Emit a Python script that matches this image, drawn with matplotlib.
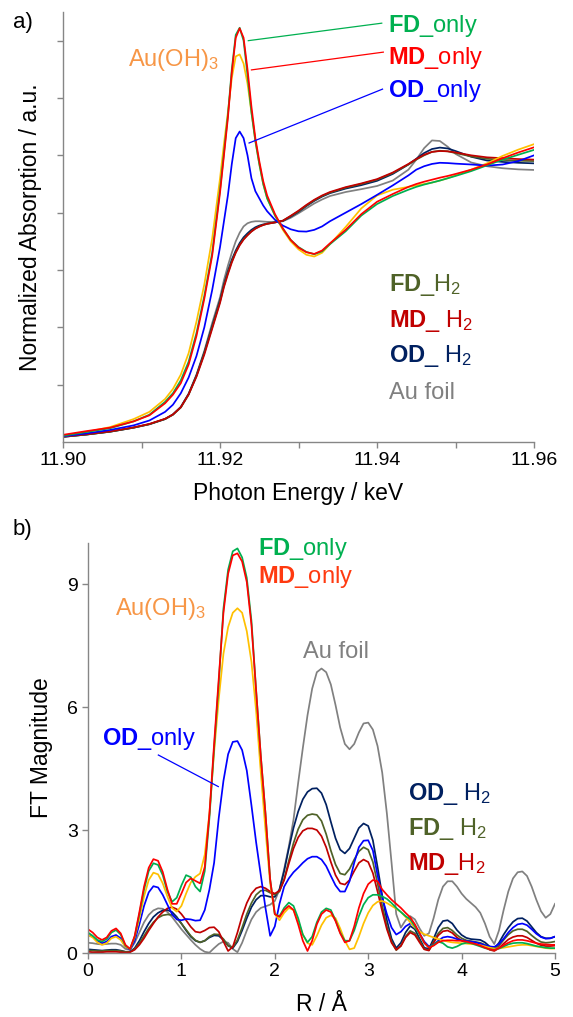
import numpy as np
import matplotlib
matplotlib.use("Agg")
import matplotlib.pyplot as plt

plt.rcParams['font.family'] = ['Liberation Sans', 'DejaVu Sans']
plt.rcParams['mathtext.fontset'] = 'custom'
plt.rcParams['mathtext.rm'] = 'Liberation Sans'
plt.rcParams['mathtext.it'] = 'Liberation Sans'
plt.rcParams['mathtext.bf'] = 'Liberation Sans:bold'

# ---------------- a) XANES ----------------
energy_kev = [11.900, 11.903, 11.906, 11.909, 11.911, 11.913, 11.914, 11.915, 11.916, 11.917,
              11.918, 11.919, 11.920, 11.9205, 11.921, 11.9215, 11.922, 11.9225, 11.923, 11.9235,
              11.924, 11.9245, 11.925, 11.9255, 11.926, 11.927, 11.928, 11.929, 11.930, 11.931,
              11.932, 11.933, 11.934, 11.936, 11.938, 11.940, 11.942, 11.944, 11.945, 11.946,
              11.947, 11.948, 11.949, 11.950, 11.952, 11.954, 11.956, 11.958, 11.960]

xanes_fd_only = [0.022, 0.035, 0.048, 0.072, 0.095, 0.140, 0.170, 0.215, 0.280, 0.380,
                 0.510, 0.660, 0.880, 1.010, 1.140, 1.300, 1.420, 1.445, 1.400, 1.280,
                 1.150, 1.050, 0.970, 0.900, 0.850, 0.790, 0.745, 0.705, 0.680, 0.663,
                 0.655, 0.665, 0.690, 0.735, 0.790, 0.830, 0.858, 0.880, 0.890, 0.898,
                 0.905, 0.912, 0.920, 0.928, 0.945, 0.965, 0.985, 1.002, 1.019]
xanes_md_only = [0.025, 0.038, 0.050, 0.072, 0.093, 0.135, 0.165, 0.205, 0.270, 0.370,
                 0.500, 0.650, 0.870, 1.000, 1.130, 1.290, 1.410, 1.443, 1.410, 1.300,
                 1.170, 1.060, 0.980, 0.910, 0.860, 0.795, 0.745, 0.705, 0.678, 0.662,
                 0.656, 0.668, 0.693, 0.740, 0.795, 0.838, 0.865, 0.890, 0.900, 0.908,
                 0.915, 0.922, 0.928, 0.935, 0.950, 0.968, 0.990, 1.010, 1.028]
xanes_au_oh3 = [0.020, 0.035, 0.052, 0.080, 0.105, 0.150, 0.185, 0.235, 0.310, 0.420,
                0.550, 0.710, 0.920, 1.040, 1.150, 1.270, 1.345, 1.352, 1.320, 1.250,
                1.150, 1.050, 0.970, 0.900, 0.850, 0.790, 0.740, 0.700, 0.672, 0.653,
                0.647, 0.660, 0.690, 0.750, 0.815, 0.860, 0.880, 0.890, 0.895, 0.900,
                0.905, 0.912, 0.920, 0.930, 0.950, 0.972, 0.998, 1.020, 1.039]
xanes_od_only = [0.020, 0.030, 0.042, 0.058, 0.075, 0.105, 0.130, 0.170, 0.225, 0.300,
                 0.400, 0.530, 0.680, 0.770, 0.860, 0.970, 1.060, 1.083, 1.060, 1.000,
                 0.920, 0.875, 0.850, 0.825, 0.805, 0.775, 0.755, 0.742, 0.735, 0.734,
                 0.740, 0.752, 0.770, 0.800, 0.830, 0.862, 0.895, 0.930, 0.950, 0.962,
                 0.970, 0.974, 0.973, 0.971, 0.968, 0.964, 0.968, 0.980, 1.000]
xanes_fd_h2 = [0.018, 0.026, 0.036, 0.050, 0.062, 0.080, 0.095, 0.120, 0.165, 0.230,
               0.310, 0.400, 0.490, 0.545, 0.590, 0.630, 0.662, 0.688, 0.708, 0.722,
               0.735, 0.745, 0.752, 0.757, 0.761, 0.766, 0.772, 0.788, 0.805, 0.825,
               0.843, 0.858, 0.870, 0.887, 0.900, 0.915, 0.938, 0.968, 0.985, 1.000,
               1.012, 1.016, 1.014, 1.008, 0.996, 0.988, 0.984, 0.981, 0.980]
xanes_md_h2 = [0.019, 0.027, 0.037, 0.051, 0.063, 0.081, 0.096, 0.121, 0.166, 0.228,
               0.305, 0.395, 0.485, 0.540, 0.585, 0.626, 0.660, 0.686, 0.706, 0.721,
               0.734, 0.744, 0.751, 0.757, 0.761, 0.766, 0.772, 0.789, 0.807, 0.827,
               0.845, 0.860, 0.872, 0.889, 0.902, 0.917, 0.940, 0.970, 0.987, 1.002,
               1.012, 1.015, 1.014, 1.010, 1.000, 0.993, 0.990, 0.987, 0.985]
xanes_od_h2 = [0.018, 0.026, 0.036, 0.050, 0.062, 0.080, 0.096, 0.122, 0.168, 0.233,
               0.313, 0.405, 0.495, 0.550, 0.596, 0.636, 0.668, 0.694, 0.714, 0.728,
               0.740, 0.749, 0.755, 0.759, 0.762, 0.766, 0.771, 0.786, 0.803, 0.823,
               0.841, 0.856, 0.868, 0.884, 0.896, 0.911, 0.935, 0.968, 0.988, 1.008,
               1.022, 1.027, 1.024, 1.015, 0.995, 0.982, 0.977, 0.974, 0.972]
xanes_au_foil = [0.018, 0.026, 0.036, 0.050, 0.062, 0.080, 0.096, 0.122, 0.168, 0.235,
                 0.318, 0.415, 0.505, 0.565, 0.615, 0.660, 0.700, 0.730, 0.752, 0.763,
                 0.768, 0.770, 0.770, 0.769, 0.768, 0.768, 0.770, 0.782, 0.798, 0.815,
                 0.832, 0.846, 0.858, 0.872, 0.882, 0.893, 0.912, 0.950, 0.985, 1.025,
                 1.052, 1.050, 1.030, 1.005, 0.975, 0.962, 0.955, 0.951, 0.949]

# ---------------- b) FT magnitude ----------------
r_grid = np.linspace(0, 5, 101)

ft_fd_only = [0.50, 0.42, 0.32, 0.28, 0.34, 0.50, 0.56, 0.45, 0.18, 0.10,
              0.40, 0.95, 1.55, 2.00, 2.19, 2.15, 1.90, 1.50, 1.25, 1.35,
              1.65, 1.90, 1.85, 1.62, 1.50, 2.00, 3.30, 5.00, 6.60, 8.40,
              9.35, 9.80, 9.87, 9.65, 9.15, 8.10, 6.40, 4.80, 3.40, 1.80,
              0.95, 0.90, 1.10, 1.23, 1.15, 0.85, 0.45, 0.26, 0.40, 0.75,
              1.00, 1.09, 1.05, 0.80, 0.50, 0.30, 0.30, 0.55, 0.90, 1.18,
              1.35, 1.42, 1.42, 1.38, 1.32, 1.22, 1.10, 1.00, 0.90, 0.82,
              0.65, 0.45, 0.25, 0.14, 0.20, 0.28, 0.24, 0.15, 0.12, 0.16,
              0.22, 0.25, 0.24, 0.20, 0.16, 0.12, 0.09, 0.08, 0.11, 0.16,
              0.21, 0.24, 0.25, 0.25, 0.23, 0.20, 0.17, 0.15, 0.13, 0.12,
              0.12]
ft_md_only = [0.58, 0.50, 0.38, 0.32, 0.38, 0.54, 0.60, 0.48, 0.20, 0.10,
              0.42, 1.00, 1.62, 2.08, 2.29, 2.25, 1.98, 1.55, 1.20, 1.20,
              1.45, 1.72, 1.82, 1.76, 1.70, 2.10, 3.40, 5.10, 6.70, 8.30,
              9.25, 9.70, 9.75, 9.55, 9.05, 8.00, 6.40, 4.80, 3.40, 1.80,
              0.95, 0.88, 1.05, 1.15, 1.05, 0.70, 0.30, 0.05, 0.30, 0.70,
              0.95, 1.05, 1.00, 0.78, 0.48, 0.26, 0.30, 0.65, 1.10, 1.45,
              1.68, 1.78, 1.75, 1.55, 1.42, 1.30, 1.20, 1.10, 0.98, 0.87,
              0.70, 0.48, 0.25, 0.13, 0.18, 0.26, 0.30, 0.31, 0.31, 0.30,
              0.30, 0.28, 0.25, 0.22, 0.18, 0.13, 0.09, 0.07, 0.12, 0.19,
              0.25, 0.30, 0.32, 0.32, 0.30, 0.27, 0.24, 0.22, 0.21, 0.20,
              0.20]
ft_au_oh3 = [0.44, 0.38, 0.26, 0.20, 0.24, 0.36, 0.40, 0.32, 0.15, 0.10,
             0.38, 0.85, 1.38, 1.78, 1.96, 1.92, 1.70, 1.38, 1.10, 1.01,
             1.15, 1.45, 1.72, 1.86, 1.94, 2.40, 3.40, 4.90, 6.20, 7.30,
             7.95, 8.30, 8.41, 8.30, 7.85, 7.10, 5.90, 4.40, 3.00, 1.70,
             0.95, 0.80, 0.98, 1.10, 1.05, 0.78, 0.45, 0.24, 0.20, 0.42,
             0.68, 0.86, 0.92, 0.85, 0.60, 0.30, 0.09, 0.12, 0.40, 0.72,
             0.98, 1.16, 1.25, 1.27, 1.22, 1.15, 1.08, 1.00, 0.88, 0.75,
             0.62, 0.52, 0.46, 0.42, 0.38, 0.34, 0.31, 0.28, 0.26, 0.25,
             0.24, 0.23, 0.22, 0.21, 0.19, 0.16, 0.13, 0.11, 0.11, 0.13,
             0.15, 0.17, 0.19, 0.20, 0.20, 0.18, 0.16, 0.14, 0.12, 0.11,
             0.11]
ft_od_only = [0.44, 0.40, 0.30, 0.24, 0.28, 0.40, 0.44, 0.36, 0.15, 0.08,
              0.30, 0.70, 1.15, 1.48, 1.63, 1.60, 1.42, 1.18, 0.95, 0.82,
              0.80, 0.83, 0.82, 0.79, 0.80, 1.05, 1.55, 2.20, 3.30, 4.20,
              4.85, 5.15, 5.17, 4.95, 4.45, 3.60, 2.70, 1.90, 1.10, 0.42,
              0.65, 1.20, 1.62, 1.82, 1.97, 2.08, 2.20, 2.30, 2.35, 2.35,
              2.28, 2.12, 1.88, 1.65, 1.50, 1.50, 1.75, 2.20, 2.58, 2.74,
              2.75, 2.50, 1.90, 1.35, 0.95, 0.62, 0.45, 0.52, 0.65, 0.72,
              0.66, 0.48, 0.28, 0.16, 0.20, 0.30, 0.38, 0.40, 0.38, 0.34,
              0.31, 0.29, 0.28, 0.26, 0.23, 0.19, 0.16, 0.15, 0.22, 0.35,
              0.50, 0.62, 0.70, 0.72, 0.68, 0.58, 0.47, 0.39, 0.35, 0.36,
              0.40]
ft_od_h2 = [0.09, 0.08, 0.07, 0.06, 0.07, 0.08, 0.08, 0.06, 0.03, 0.03,
            0.12, 0.30, 0.52, 0.72, 0.88, 0.98, 1.04, 1.05, 1.00, 0.88,
            0.72, 0.55, 0.40, 0.30, 0.26, 0.30, 0.38, 0.43, 0.42, 0.32,
            0.18, 0.12, 0.28, 0.55, 0.85, 1.12, 1.30, 1.40, 1.40, 1.37,
            1.37, 1.55, 2.00, 2.55, 3.05, 3.45, 3.75, 3.93, 4.01, 4.02,
            3.90, 3.62, 3.20, 2.80, 2.52, 2.43, 2.55, 2.80, 3.05, 3.16,
            3.10, 2.75, 2.10, 1.40, 0.80, 0.35, 0.12, 0.25, 0.50, 0.66,
            0.58, 0.35, 0.13, 0.10, 0.35, 0.62, 0.78, 0.80, 0.72, 0.56,
            0.44, 0.37, 0.34, 0.33, 0.32, 0.26, 0.16, 0.11, 0.25, 0.45,
            0.62, 0.76, 0.84, 0.85, 0.78, 0.64, 0.50, 0.40, 0.36, 0.36,
            0.40]
ft_fd_h2 = [0.06, 0.06, 0.05, 0.05, 0.06, 0.06, 0.06, 0.05, 0.03, 0.03,
            0.10, 0.24, 0.42, 0.60, 0.75, 0.86, 0.92, 0.94, 0.93, 0.85,
            0.72, 0.57, 0.42, 0.31, 0.26, 0.30, 0.40, 0.46, 0.45, 0.34,
            0.18, 0.14, 0.32, 0.62, 0.95, 1.22, 1.42, 1.52, 1.53, 1.47,
            1.42, 1.50, 1.80, 2.25, 2.68, 3.02, 3.25, 3.36, 3.39, 3.37,
            3.22, 2.90, 2.50, 2.16, 1.94, 1.91, 2.05, 2.28, 2.48, 2.58,
            2.52, 2.22, 1.70, 1.15, 0.65, 0.28, 0.07, 0.18, 0.40, 0.54,
            0.48, 0.30, 0.10, 0.07, 0.28, 0.48, 0.60, 0.62, 0.55, 0.44,
            0.36, 0.31, 0.29, 0.27, 0.25, 0.20, 0.12, 0.08, 0.18, 0.32,
            0.45, 0.54, 0.58, 0.58, 0.53, 0.43, 0.34, 0.27, 0.25, 0.26,
            0.28]
ft_md_h2 = [0.03, 0.02, 0.02, 0.02, 0.03, 0.03, 0.03, 0.02, 0.01, 0.02,
            0.08, 0.20, 0.36, 0.55, 0.72, 0.88, 1.00, 1.09, 1.12, 1.07,
            0.95, 0.80, 0.64, 0.52, 0.50, 0.55, 0.62, 0.63, 0.52, 0.28,
            0.05, 0.15, 0.50, 0.90, 1.22, 1.45, 1.58, 1.62, 1.58, 1.50,
            1.45, 1.52, 1.78, 2.18, 2.55, 2.82, 2.98, 3.04, 3.04, 3.00,
            2.85, 2.58, 2.22, 1.90, 1.70, 1.67, 1.78, 2.00, 2.20, 2.28,
            2.22, 1.95, 1.50, 1.02, 0.58, 0.25, 0.08, 0.17, 0.38, 0.50,
            0.44, 0.26, 0.09, 0.06, 0.25, 0.43, 0.53, 0.55, 0.49, 0.38,
            0.30, 0.26, 0.24, 0.22, 0.20, 0.15, 0.08, 0.05, 0.12, 0.23,
            0.33, 0.39, 0.42, 0.42, 0.38, 0.31, 0.24, 0.19, 0.17, 0.17,
            0.18]
ft_au_foil = [0.25, 0.24, 0.22, 0.21, 0.22, 0.23, 0.23, 0.20, 0.10, 0.08,
              0.25, 0.50, 0.75, 0.93, 1.04, 1.09, 1.08, 1.00, 0.88, 0.73,
              0.58, 0.45, 0.32, 0.20, 0.10, 0.03, 0.01, 0.12, 0.22, 0.28,
              0.25, 0.10, 0.02, 0.25, 0.55, 0.82, 1.00, 1.10, 1.14, 1.18,
              1.27, 1.55, 2.05, 2.60, 3.25, 4.15, 5.00, 5.80, 6.45, 6.85,
              6.94, 6.85, 6.55, 6.05, 5.50, 5.10, 4.97, 5.10, 5.38, 5.60,
              5.62, 5.45, 5.05, 4.40, 3.40, 2.20, 0.95, 0.62, 0.80, 0.90,
              0.82, 0.60, 0.42, 0.48, 0.85, 1.30, 1.62, 1.75, 1.75, 1.62,
              1.45, 1.32, 1.22, 1.12, 0.98, 0.72, 0.40, 0.22, 0.55, 1.05,
              1.50, 1.82, 1.97, 1.99, 1.88, 1.62, 1.30, 1.02, 0.86, 0.95,
              1.20]

c_fd_only = '#00B050'
c_md_only = '#FF0000'
c_od_only = '#0000FF'
c_au_oh3 = '#FFC000'
c_au_oh3_txt = '#F79646'
c_fd_h2 = '#4F6228'
c_md_h2 = '#C00000'
c_od_h2 = '#002060'
c_foil = '#808080'
c_axis = '#868686'

fig = plt.figure(figsize=(5.73, 10.17), dpi=100)
ax1 = fig.add_axes([0.110, 0.5654, 0.822, 0.4228])
ax2 = fig.add_axes([0.1536, 0.0629, 0.815, 0.4031])

lw = 1.25
for y, c in [(xanes_au_foil, c_foil), (xanes_od_h2, c_od_h2), (xanes_fd_h2, c_fd_h2),
             (xanes_md_h2, c_md_h2), (xanes_au_oh3, c_au_oh3), (xanes_od_only, c_od_only),
             (xanes_fd_only, c_fd_only), (xanes_md_only, c_md_only)]:
    ax1.plot(energy_kev, y, color=c, lw=lw)

for y, c in [(ft_au_foil, c_foil), (ft_od_h2, c_od_h2), (ft_fd_h2, c_fd_h2),
             (ft_md_h2, c_md_h2), (ft_od_only, c_od_only), (ft_au_oh3, c_au_oh3),
             (ft_fd_only, c_fd_only), (ft_md_only, c_md_only)]:
    ax2.plot(r_grid, y, color=c, lw=lw)

for ax in (ax1, ax2):
    for s in ('top', 'right'):
        ax.spines[s].set_visible(False)
    for s in ('left', 'bottom'):
        ax.spines[s].set_color(c_axis)
        ax.spines[s].set_linewidth(1.0)
    ax.tick_params(color=c_axis, length=4, width=1.0, labelsize=14, direction='out')

# panel a
ax1.set_xlim(11.90, 11.96)
ax1.set_ylim(0, 1.5)
ax1.set_xticks([11.90, 11.92, 11.94, 11.96])
ax1.set_xticklabels(['11.90', '11.92', '11.94', '11.96'])
ax1.set_xticks([11.91, 11.93, 11.95], minor=True)
ax1.tick_params(which='minor', color=c_axis, length=4, width=1.0)
ax1.set_yticks([0.2, 0.4, 0.6, 0.8, 1.0, 1.2, 1.4])
ax1.set_yticklabels([])
ax1.set_xlabel('Photon Energy / keV', fontsize=16.5, labelpad=9)
ax1.set_ylabel('Normalized Absorption / a.u.', fontsize=16.5, labelpad=8)

fs = 17
ax1.text(11.9414, 1.431, r'$\mathbf{FD}\_\mathrm{only}$', color=c_fd_only, fontsize=fs)
ax1.text(11.9414, 1.320, r'$\mathbf{MD}\_\mathrm{only}$', color=c_md_only, fontsize=fs)
ax1.text(11.9414, 1.204, r'$\mathbf{OD}\_\mathrm{only}$', color=c_od_only, fontsize=fs)
ax1.text(11.9083, 1.310, r'$\mathrm{Au(OH)_3}$', color=c_au_oh3_txt, fontsize=fs)
ax1.plot([11.9236, 11.9406], [1.400, 1.461], color=c_fd_only, lw=0.9)
ax1.plot([11.9240, 11.9408], [1.298, 1.360], color=c_md_only, lw=0.9)
ax1.plot([11.9237, 11.9407], [1.043, 1.231], color=c_od_only, lw=0.9)
ax1.text(11.9415, 0.528, r'$\mathbf{FD}\_\mathrm{H_2}$', color=c_fd_h2, fontsize=fs)
ax1.text(11.9415, 0.402, r'$\mathbf{MD}\_\ \mathrm{H_2}$', color=c_md_h2, fontsize=fs)
ax1.text(11.9415, 0.280, r'$\mathbf{OD}\_\ \mathrm{H_2}$', color=c_od_h2, fontsize=fs)
ax1.text(11.9415, 0.150, 'Au foil', color=c_foil, fontsize=fs)

# panel b
ax2.set_xlim(0, 5)
ax2.set_ylim(0, 10)
ax2.set_xticks([0, 1, 2, 3, 4, 5])
ax2.set_yticks([0, 3, 6, 9])
ax2.set_xlabel('R / Å', fontsize=16.5, labelpad=9)
ax2.set_ylabel('FT Magnitude', fontsize=16.5, labelpad=10)

ax2.text(1.823, 9.72, r'$\mathbf{FD}\_\mathrm{only}$', color=c_fd_only, fontsize=fs)
ax2.text(1.823, 9.02, r'$\mathbf{MD}\_\mathrm{only}$', color='#FF3A10', fontsize=fs)
ax2.text(0.289, 8.24, r'$\mathrm{Au(OH)_3}$', color=c_au_oh3_txt, fontsize=fs)
ax2.text(2.305, 7.19, 'Au foil', color=c_foil, fontsize=fs)
ax2.text(0.147, 5.07, r'$\mathbf{OD}\_\mathrm{only}$', color=c_od_only, fontsize=fs)
ax2.plot([0.753, 1.395], [4.83, 4.06], color=c_od_only, lw=0.9)
ax2.text(3.43, 3.73, r'$\mathbf{OD}\_\ \mathrm{H_2}$', color=c_od_h2, fontsize=fs)
ax2.text(3.43, 2.88, r'$\mathbf{FD}\_\ \mathrm{H_2}$', color=c_fd_h2, fontsize=fs)
ax2.text(3.43, 2.02, r'$\mathbf{MD}\_\mathrm{H_2}$', color=c_md_h2, fontsize=fs)

fig.text(0.022, 0.978, 'a)', fontsize=16, va='center')
fig.text(0.022, 0.479, 'b)', fontsize=16, va='center')

fig.savefig('out.png', dpi=100)
